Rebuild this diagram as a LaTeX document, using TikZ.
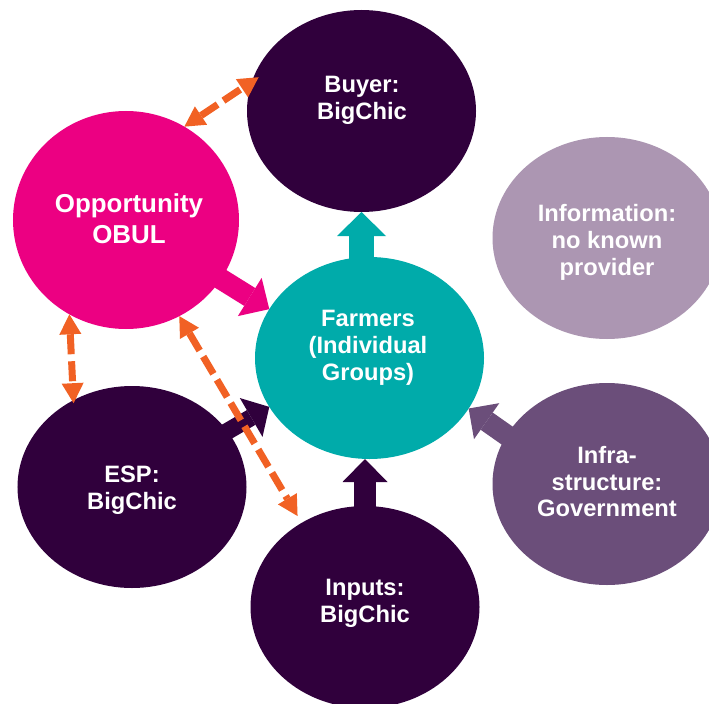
\documentclass[tikz,border=0pt]{standalone}
\usepackage{fontspec}
\setmainfont{Liberation Sans}
\usetikzlibrary{shapes.geometric,arrows.meta,calc}
\definecolor{cdark}{RGB}{48,0,60}
\definecolor{cpink}{RGB}{236,0,130}
\definecolor{cteal}{RGB}{0,171,170}
\definecolor{cmauve}{RGB}{172,150,178}
\definecolor{cinfra}{RGB}{107,78,122}
\definecolor{corange}{RGB}{241,97,36}
\tikzset{
  blob/.style={ellipse, inner sep=0pt, outer sep=0pt, minimum width=229bp, minimum height=202bp},
  lbl/.style={text=white, font=\fontsize{23.8}{27}\selectfont\bfseries, align=center, inner sep=0pt},
  biglbl/.style={lbl, font=\fontsize{26}{31}\selectfont\bfseries},
  blockarr/.style n args={3}{line width=#1, -{Triangle[width=#2,length=#3,line width=0pt]}},
  dasharr/.style={draw=corange, line width=7bp, dash pattern=on 20bp off 7bp,
    {Triangle[width=22bp,length=20bp,line width=0pt]}-{Triangle[width=22bp,length=20bp,line width=0pt]}}
}
\begin{document}
\begin{tikzpicture}[x=1bp,y=-1bp]
\useasboundingbox (0,0) rectangle (709,704);
\clip (0,0) rectangle (709,704);
\fill[white] (0,0) rectangle (709,704);
% ellipses
\node[blob, fill=cdark] (buyer) at (361.5,111) {};
\node[blob, fill=cpink, minimum width=226bp, minimum height=218bp] (opp) at (126,220) {};
\node[blob, fill=cmauve] (info) at (607,238) {};
\node[blob, fill=cteal] (farmers) at (369.5,358) {};
\node[blob, fill=cdark] (esp) at (132,487) {};
\node[blob, fill=cinfra] (infra) at (607,484) {};
\node[blob, fill=cdark] (inputs) at (365,607) {};
% block arrows
\draw[cteal, blockarr={25bp}{49bp}{24bp}] ($(buyer.south |- farmers.north)+(0,15)$) -- (buyer.south);
\draw[cpink, blockarr={21bp}{45bp}{23bp}] (opp.center) -- (farmers.154.5);
\draw[cdark, blockarr={17bp}{45bp}{21bp}] (esp.center) -- (farmers.206.4);
\draw[cdark, blockarr={22bp}{45bp}{23bp}] (inputs.center) -- (inputs.center |- farmers.south);
\draw[cinfra, blockarr={21bp}{44bp}{22bp}] ($(farmers.333.6)+(65.5,46)$) -- (farmers.333.6);
% dashed double arrows
\draw[dasharr, shorten >=-8bp] (opp.58.5) -- (buyer.165.3);
\draw[dasharr, shorten >=-3bp] (opp.239.6) -- (esp.124.2);
\draw[dasharr, shorten >=8bp] (opp.299.1) -- (inputs.127.2);
% labels
\node[lbl] (tbuyer) at (362,100) {Buyer:\\BigChic};
\node[biglbl] (topp) at (129,221.5) {Opportunity\\OBUL\vphantom{g}};
\node[lbl] (tinfo) at (607,242) {Information:\\no known\\provider};
\node[lbl] (tfarm) at (368,348) {Farmers\\(Individual\\Groups)};
\node[lbl] (tesp) at (132,490) {ESP:\\BigChic};
\node[lbl] (tinputs) at (365,603.5) {Inputs:\\BigChic};
\node[lbl] (tinfra) at (607,484) {Infra-\\structure:\\Government\vphantom{g}};
\end{tikzpicture}
\end{document}
